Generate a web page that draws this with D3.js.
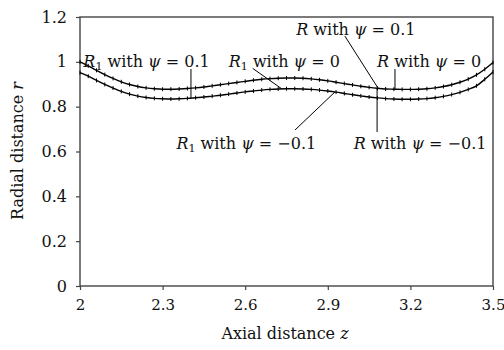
<!DOCTYPE html>
<html>
<head>
<meta charset="utf-8">
<script src="https://cdn.jsdelivr.net/npm/d3@7"></script>
<style>
  html, body { margin: 0; padding: 0; background: #fff; }
  svg { display: block; }
  text { font-family: "DejaVu Serif", "Liberation Serif", serif; fill: #111; }
</style>
</head>
<body>
<svg id="chart" width="504" height="350"></svg>
<script>
// ---- data ----
const zValues = [2.00,2.03,2.06,2.09,2.12,2.15,2.18,2.21,2.24,2.27,2.30,2.33,2.36,2.39,2.42,2.45,2.48,2.51,2.54,2.57,2.60,2.63,2.66,2.69,2.72,2.75,2.78,2.81,2.84,2.87,2.90,2.93,2.96,2.99,3.02,3.05,3.08,3.11,3.14,3.17,3.20,3.23,3.26,3.29,3.32,3.35,3.38,3.41,3.44,3.47,3.50];
// Outer wall R (curves for psi = 0.1, 0, -0.1 coincide at this scale)
const rValues = [1.000,0.982,0.962,0.943,0.926,0.911,0.899,0.890,0.884,0.880,0.878,0.878,0.879,0.881,0.884,0.888,0.893,0.898,0.903,0.908,0.913,0.918,0.922,0.925,0.927,0.928,0.928,0.927,0.924,0.920,0.915,0.909,0.903,0.897,0.891,0.886,0.882,0.879,0.878,0.877,0.877,0.878,0.880,0.884,0.890,0.898,0.909,0.923,0.942,0.967,0.997];
// Inner wall R1
const r1Values = [0.952,0.936,0.917,0.899,0.883,0.868,0.856,0.847,0.841,0.837,0.835,0.834,0.835,0.837,0.840,0.843,0.847,0.851,0.856,0.861,0.866,0.870,0.874,0.877,0.879,0.880,0.880,0.879,0.877,0.874,0.870,0.865,0.859,0.853,0.848,0.843,0.839,0.836,0.834,0.833,0.833,0.834,0.836,0.840,0.846,0.854,0.864,0.877,0.893,0.922,0.955];
const xTicks = [2, 2.3, 2.6, 2.9, 3.2, 3.5];
const yTicks = [0, 0.2, 0.4, 0.6, 0.8, 1, 1.2];
const xTitle = "Axial distance ";
const yTitle = "Radial distance ";
// annotations: [wall symbol, subscript, psi text, label centre z, label baseline r, leader start z, leader start r, target z, target series]
const annotations = [
  ["R", "1", "0.1",  2.2416, 0.975, 2.403, 0.968, 2.403, "r1"],
  ["R", "1", "0",    2.742,  0.975, 2.627, 0.971, 2.733, "r1"],
  ["R", "",  "0.1",  3.002,  1.120, 2.962, 1.115, 3.083, "r"],
  ["R", "",  "0",    3.268,  0.975, 3.144, 0.968, 3.144, "r"],
  ["R", "1", "\u22120.1", 2.604, 0.611, 2.781, 0.696, 2.926, "r1"],
  ["R", "",  "\u22120.1", 3.235, 0.611, 3.079, 0.687, 3.079, "r"]
];

// ---- chart ----
const svg = d3.select("#chart");
const x = d3.scaleLinear().domain([2, 3.5]).range([80, 493]);
const y = d3.scaleLinear().domain([0, 1.2]).range([286, 17]);
const axisColor = "#444";

// frame
svg.append("rect").attr("x", 80).attr("y", 17).attr("width", 413).attr("height", 269)
  .attr("fill", "none").attr("stroke", axisColor).attr("stroke-width", 1.4);

// x axis
const gx = svg.append("g").attr("transform", "translate(0,286)")
  .call(d3.axisBottom(x).tickValues(xTicks).tickSize(4).tickPadding(9).tickFormat(d3.format("")));
gx.select(".domain").remove();
gx.selectAll("line").attr("stroke", axisColor).attr("stroke-width", 1.2);
gx.selectAll("text").attr("font-size", 15).attr("font-family", "DejaVu Serif").attr("fill", "#111");

// y axis
const gy = svg.append("g").attr("transform", "translate(80,0)")
  .call(d3.axisLeft(y).tickValues(yTicks).tickSize(4).tickPadding(9).tickFormat(d3.format("")));
gy.select(".domain").remove();
gy.selectAll("line").attr("stroke", axisColor).attr("stroke-width", 1.2);
gy.selectAll("text").attr("font-size", 16).attr("font-family", "DejaVu Serif").attr("fill", "#111");

// titles
const xt = svg.append("text").attr("x", 285).attr("y", 339).attr("text-anchor", "middle").attr("font-size", 16);
xt.append("tspan").text(xTitle);
xt.append("tspan").attr("font-style", "italic").text("z");
const yt = svg.append("text").attr("transform", "translate(23,151) rotate(-90)").attr("text-anchor", "middle").attr("font-size", 16);
yt.append("tspan").text(yTitle);
yt.append("tspan").attr("font-style", "italic").text("r");

// curves
const series = { r: rValues, r1: r1Values };
const line = d3.line().x((d, i) => x(zValues[i])).y(d => y(d)).curve(d3.curveMonotoneX);
Object.values(series).forEach(vals => {
  svg.append("path").attr("d", line(vals)).attr("fill", "none").attr("stroke", "#000").attr("stroke-width", 1.4);
  svg.append("g").selectAll("line").data(vals).join("line")
    .attr("x1", (d, i) => x(zValues[i])).attr("x2", (d, i) => x(zValues[i]))
    .attr("y1", d => y(d) - 2).attr("y2", d => y(d) + 2)
    .attr("stroke", "#000").attr("stroke-width", 1);
});

function seriesAt(key, z) {
  const vals = series[key];
  return d3.scaleLinear().domain(zValues).range(vals)(z);
}

// annotations
annotations.forEach(a => {
  const [sym, sub, psi, cz, cr, sz, sr, tz, key] = a;
  svg.append("line")
    .attr("x1", x(sz)).attr("y1", y(sr))
    .attr("x2", x(tz)).attr("y2", y(seriesAt(key, tz)))
    .attr("stroke", "#000").attr("stroke-width", 1);
  const t = svg.append("text").attr("x", x(cz)).attr("y", y(cr))
    .attr("text-anchor", "middle").attr("font-size", 16);
  t.append("tspan").attr("font-style", "italic").text(sym);
  if (sub) t.append("tspan").attr("font-size", 11).attr("dy", 3).text(sub);
  t.append("tspan").attr("dy", sub ? -3 : 0).text(" with ");
  t.append("tspan").attr("font-style", "italic").text("\u03C8");
  t.append("tspan").text(" = " + psi);
});
</script>
</body>
</html>
